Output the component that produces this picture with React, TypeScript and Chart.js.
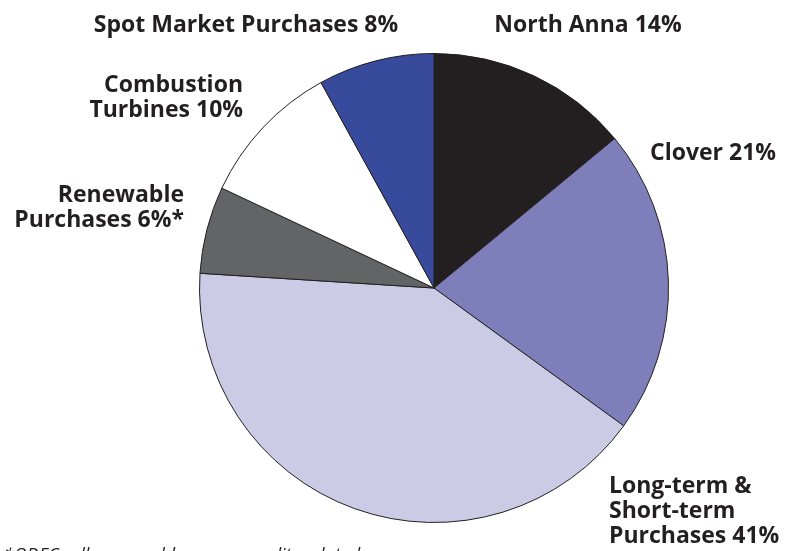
import React, { useEffect, useRef } from "react";
import { Chart, registerables } from "chart.js";

Chart.register(...registerables);

const categories = [
  "North Anna",
  "Clover",
  "Long-term & Short-term Purchases",
  "Renewable Purchases",
  "Combustion Turbines",
  "Spot Market Purchases",
];
const shares = [14, 21, 41, 6, 10, 8];
const sliceColors = ["#231f20", "#7e7fba", "#cbcbe6", "#636466", "#ffffff", "#374a9c"];
const labelLines = [
  ["North Anna 14%"],
  ["Clover 21%"],
  ["Long-term &", "Short-term", "Purchases 41%"],
  ["Renewable", "Purchases 6%*"],
  ["Combustion", "Turbines 10%"],
  ["Spot Market Purchases 8%"],
];
const footnote = "*ODEC sells renewable energy credits related";

// label anchor: x, first baseline y, alignment
const labelPos: { x: number; y: number; align: CanvasTextAlign }[] = [
  { x: 588, y: 32, align: "center" },
  { x: 650, y: 160, align: "left" },
  { x: 609, y: 493, align: "left" },
  { x: 184, y: 202, align: "right" },
  { x: 243, y: 92, align: "right" },
  { x: 246, y: 32, align: "center" },
];

const FONT = '"Open Sans", "Noto Sans", sans-serif';

const labelPlugin = {
  id: "sliceLabels",
  afterDraw(chart: any) {
    const ctx = chart.ctx as CanvasRenderingContext2D;
    ctx.save();
    ctx.fillStyle = "#231f20";
    ctx.font = `bold 23px ${FONT}`;
    ctx.textBaseline = "alphabetic";
    labelLines.forEach((lines, i) => {
      const p = labelPos[i];
      ctx.textAlign = p.align;
      lines.forEach((ln, j) => ctx.fillText(ln, p.x, p.y + j * 25));
    });
    ctx.font = `italic 18px ${FONT}`;
    ctx.textAlign = "left";
    ctx.fillText(footnote, 4, 561);
    ctx.restore();
  },
};

export default function App() {
  const ref = useRef<HTMLCanvasElement | null>(null);
  useEffect(() => {
    document.body.style.margin = "0";
    const chart = new Chart(ref.current as HTMLCanvasElement, {
      type: "pie",
      data: {
        labels: categories,
        datasets: [
          {
            data: shares,
            backgroundColor: sliceColors,
            borderColor: "#231f20",
            borderWidth: 1,
          },
        ],
      },
      options: {
        responsive: false,
        animation: false,
        layout: { padding: { top: 53, bottom: 28, left: 199, right: 119 } },
        plugins: {
          legend: { display: false },
          tooltip: { enabled: false },
        },
      },
      plugins: [labelPlugin],
    });
    return () => chart.destroy();
  }, []);
  return (
    <div style={{ width: 788, height: 551, background: "#fff", overflow: "hidden" }}>
      <canvas ref={ref} width={788} height={551} style={{ display: "block" }} />
    </div>
  );
}
